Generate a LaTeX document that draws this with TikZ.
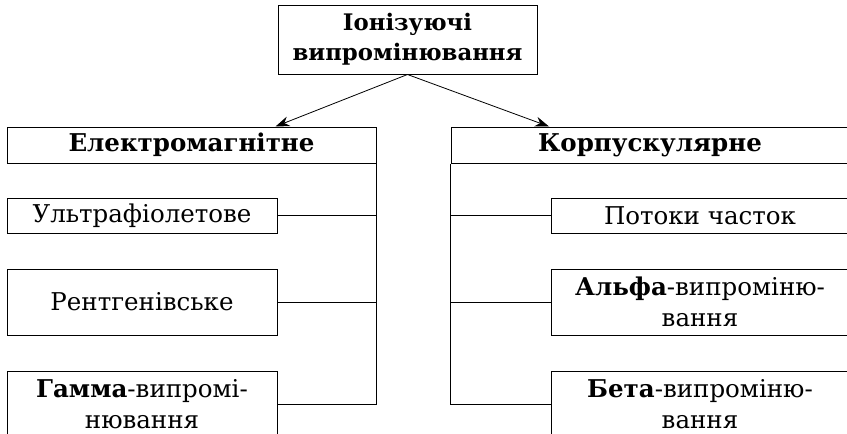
\documentclass[tikz,border=0pt]{standalone}
\usepackage{fontspec}
\setmainfont{DejaVu Serif}
\usetikzlibrary{positioning, arrows.meta, calc}

\begin{document}
\begin{tikzpicture}[x=1pt, y=-1pt, line width=1pt,
		box/.style={draw, inner sep=0pt, align=center, font=\fontsize{24.5}{31}\selectfont},
		head/.style={box, font=\fontsize{24.5}{30}\selectfont\bfseries, minimum height=36pt},
		leaf/.style={box, minimum width=270pt, minimum height=35pt},
		leaftwo/.style={leaf, minimum height=66pt}]
			\clip (0,0) rectangle (847,434);
			
			\node[head, minimum width=259pt, minimum height=69pt, font=\fontsize{22.8}{30}\selectfont\bfseries] (ion) at (407.5,39.5) {Іонізуючі\\випромінювання};
			
			\node[head, minimum width=369pt] (em) at (191.5,145) {Електромагнітне};
			\node[leaf] (uv) at (142,215.5) {Ультрафіолетове};
			\node[leaftwo] (rg) at (142,302) {Рентгенівське};
			\node[leaftwo] (gm) at (142,404) {\textbf{Гамма}-випромі-\\нювання};
			
			\node[head, minimum width=398pt] (kp) at (650,145) {Корпускулярне};
			\node[leaf, minimum width=298pt] (pc) at (700,215.5) {Потоки часток};
			\node[leaftwo, minimum width=298pt] (al) at (700,302) {\textbf{Альфа}-випроміню-\\вання};
			\node[leaftwo, minimum width=298pt] (bt) at (700,404) {\textbf{Бета}-випроміню-\\вання};
			
			\coordinate (emin) at ([xshift=84pt]em.north);
			\coordinate (kpin) at ([xshift=-101pt]kp.north);
			
			\path[-{Stealth[length=14pt,width=10pt]}, line width=0.8pt]
			(ion.south) edge (emin)
			(ion.south) edge (kpin);
			
			\draw (em.south east) |- (gm.east);
			\draw (uv.east) -- (uv.east -| em.east);
			\draw (rg.east) -- (rg.east -| em.east);
			
			\draw (kp.south west) |- (bt.west);
			\draw (pc.west) -- (pc.west -| kp.west);
			\draw (al.west) -- (al.west -| kp.west);
			
		\end{tikzpicture}
\end{document}
